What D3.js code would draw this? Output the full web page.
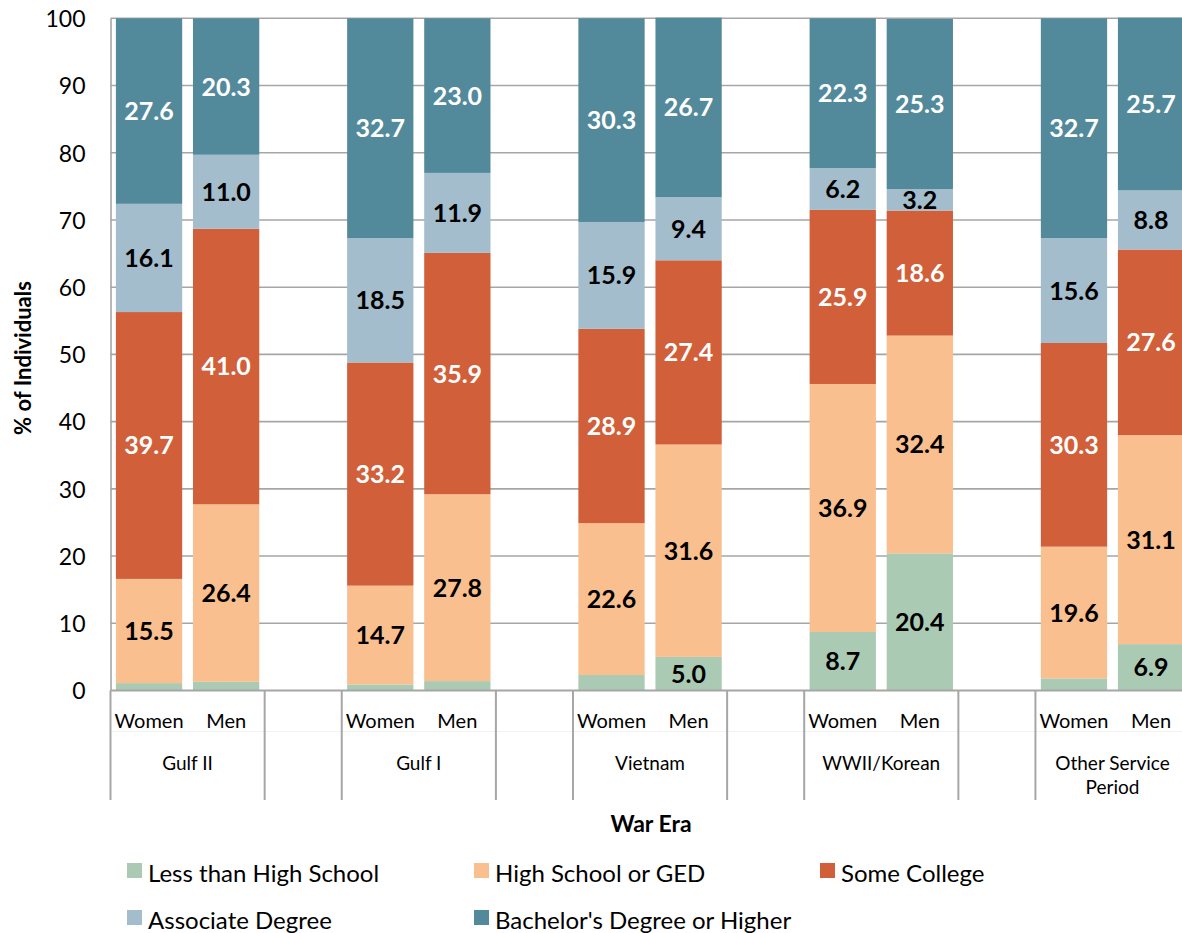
<!DOCTYPE html>
<html>
<head>
<meta charset="utf-8">
<script src="https://cdn.jsdelivr.net/npm/d3@7"></script>
<style>
  html, body { margin: 0; padding: 0; background: #fff; }
  svg { display: block; font-family: Lato, "Open Sans", sans-serif; }
</style>
</head>
<body>
<svg id="chart" width="1182" height="933"></svg>
<script>
// ---- data ----
const eras = ["Gulf II", "Gulf I", "Vietnam", "WWII/Korean", "Other Service Period"];
const genders = ["Women", "Men"];
const seriesNames = ["Less than High School", "High School or GED", "Some College", "Associate Degree", "Bachelor's Degree or Higher"];
// values in order: Gulf II W, M, Gulf I W, M, Vietnam W, M, WWII W, M, Other W, M
const lessThanHS  = [1.1, 1.3, 0.9, 1.4, 2.3, 5.0, 8.7, 20.4, 1.8, 6.9];
const highSchool  = [15.5, 26.4, 14.7, 27.8, 22.6, 31.6, 36.9, 32.4, 19.6, 31.1];
const someCollege = [39.7, 41.0, 33.2, 35.9, 28.9, 27.4, 25.9, 18.6, 30.3, 27.6];
const associate   = [16.1, 11.0, 18.5, 11.9, 15.9, 9.4, 6.2, 3.2, 15.6, 8.8];
const bachelors   = [27.6, 20.3, 32.7, 23.0, 30.3, 26.7, 22.3, 25.3, 32.7, 25.7];
const yTicks = [0, 10, 20, 30, 40, 50, 60, 70, 80, 90, 100];

const seriesColors = ["#abcab3", "#f9bf8f", "#d05f3a", "#a3bdcc", "#538a9b"];
const labelColors = ["#000", "#000", "#fff", "#000", "#fff"];
const seriesValues = [lessThanHS, highSchool, someCollege, associate, bachelors];

(function () {
// ---- build rows ----
const rows = [];
eras.forEach((era, i) => {
  genders.forEach((g, j) => {
    const idx = i * 2 + j;
    const r = { key: era + "|" + g, era, gender: g };
    seriesNames.forEach((s, k) => r[s] = seriesValues[k][idx]);
    rows.push(r);
  });
});
const slotKeys = [];
eras.forEach((era, i) => {
  slotKeys.push(era + "|Women", era + "|Men");
  if (i < eras.length - 1) slotKeys.push("gap" + i);
});

// ---- layout ----
const svg = d3.select("#chart");
const plotL = 110.5, plotR = 1189.6, plotT = 18.3, plotB = 690.5;

const x = d3.scaleBand().domain(slotKeys).range([plotL, plotR])
  .paddingInner(0.14).paddingOuter(0.07);
const y = d3.scaleLinear().domain([0, 100]).range([plotB, plotT]);
const step = x.step();
const halfGap = x.paddingInner() * step / 2;

// gridlines
svg.append("g").selectAll("line").data(yTicks.filter(t => t > 0)).join("line")
  .attr("x1", plotL).attr("x2", plotR)
  .attr("y1", d => y(d)).attr("y2", d => y(d))
  .attr("stroke", "#a6a6a6").attr("stroke-width", 1.6);

// y axis
const yAxis = d3.axisLeft(y).tickValues(yTicks).tickSize(0).tickPadding(25);
const gy = svg.append("g").attr("transform", `translate(${plotL},0)`).call(yAxis);
gy.select(".domain").attr("stroke", "#a6a6a6").attr("stroke-width", 1.6);
gy.selectAll(".tick text").attr("font-size", 23).attr("fill", "#000")
  .attr("font-family", "Lato, sans-serif").attr("dy", "0.36em");

// stacked bars
const stack = d3.stack().keys(seriesNames)(rows);
const layers = svg.append("g").selectAll("g").data(stack).join("g")
  .attr("fill", (d, i) => seriesColors[i]);
layers.selectAll("rect").data(d => d).join("rect")
  .attr("x", d => x(d.data.key))
  .attr("width", x.bandwidth())
  .attr("y", d => y(d[1]))
  .attr("height", d => y(d[0]) - y(d[1]));

// data labels
const lbl = svg.append("g").attr("font-weight", 700).attr("font-size", 25)
  .attr("text-anchor", "middle");
stack.forEach((layer, i) => {
  lbl.append("g").selectAll("text").data(layer.filter(d => (d[1] - d[0]) >= 3)).join("text")
    .attr("x", d => x(d.data.key) + x.bandwidth() / 2)
    .attr("y", d => y((d[0] + d[1]) / 2))
    .attr("dy", "0.36em")
    .attr("fill", labelColors[i])
    .text(d => d3.format(".1f")(d.data[seriesNames[i]]));
});

// x axis baseline
svg.append("line").attr("x1", plotL).attr("x2", plotR)
  .attr("y1", plotB).attr("y2", plotB)
  .attr("stroke", "#a6a6a6").attr("stroke-width", 2);
// faint row divider
svg.append("line").attr("x1", plotL).attr("x2", plotR)
  .attr("y1", 731.5).attr("y2", 731.5)
  .attr("stroke", "#f2f2f2").attr("stroke-width", 1);

// group separators
const seps = [];
eras.forEach(era => {
  seps.push(x(era + "|Women") - halfGap);
  seps.push(x(era + "|Men") + x.bandwidth() + halfGap);
});
svg.append("g").selectAll("line").data(seps).join("line")
  .attr("x1", d => d).attr("x2", d => d)
  .attr("y1", plotB).attr("y2", 800)
  .attr("stroke", "#a6a6a6").attr("stroke-width", 2);

// gender labels
svg.append("g").selectAll("text").data(rows).join("text")
  .attr("x", d => x(d.key) + x.bandwidth() / 2)
  .attr("y", 728)
  .attr("text-anchor", "middle").attr("font-size", 20).attr("fill", "#000")
  .text(d => d.gender);

// era labels
const eraLines = { "Other Service Period": ["Other Service", "Period"] };
const eg = svg.append("g").attr("font-size", 19).attr("text-anchor", "middle").attr("fill", "#000");
eras.forEach(era => {
  const cx = (x(era + "|Women") + x(era + "|Men") + x.bandwidth()) / 2;
  const lines = eraLines[era] || [era];
  lines.forEach((ln, k) => {
    eg.append("text").attr("x", cx).attr("y", 770 + k * 24).text(ln);
  });
});

// axis titles
svg.append("text").attr("x", 651).attr("y", 832)
  .attr("text-anchor", "middle").attr("font-size", 23).attr("font-weight", 700)
  .text("War Era");
svg.append("text")
  .attr("transform", "translate(31,358) rotate(-90)")
  .attr("text-anchor", "middle").attr("font-size", 22).attr("font-weight", 700)
  .text("% of Individuals");

// legend
const legPos = [[127, 863], [474, 863], [820, 863], [127, 910], [474, 910]];
const leg = svg.append("g").selectAll("g").data(seriesNames).join("g")
  .attr("transform", (d, i) => `translate(${legPos[i][0]},${legPos[i][1]})`);
leg.append("rect").attr("width", 15).attr("height", 15)
  .attr("fill", (d, i) => seriesColors[i]);
leg.append("text").attr("x", 21).attr("y", 19)
  .attr("font-size", 24).attr("fill", "#000").text(d => d);
})();
</script>
</body>
</html>
